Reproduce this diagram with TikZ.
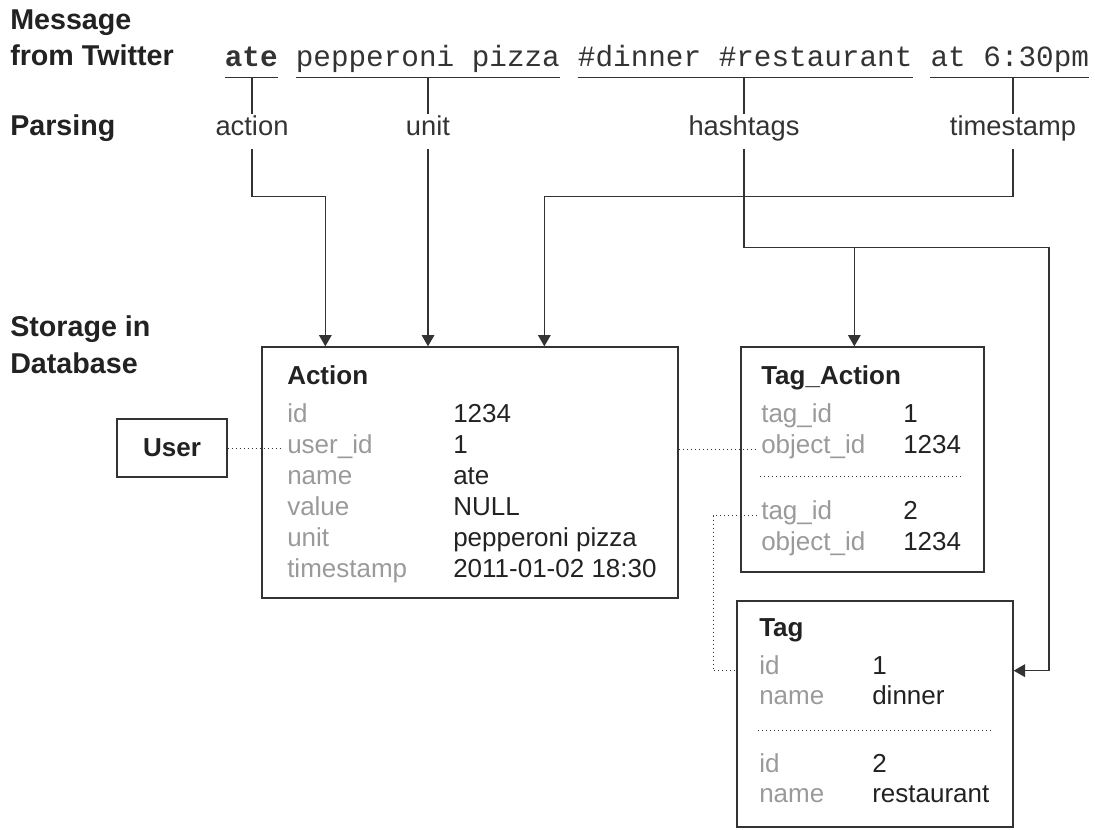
\documentclass[tikz,border=0pt]{standalone}
\usepackage{fontspec}
\setmainfont{Liberation Sans}
\setmonofont{Liberation Mono}
\usetikzlibrary{arrows.meta,positioning,calc}

\definecolor{ink}{HTML}{333333}
\definecolor{keygray}{HTML}{9A9A9A}
\definecolor{valink}{HTML}{222222}

\begin{document}
\begin{tikzpicture}[x=0.75pt,y=-0.75pt,
    heading/.style={anchor=base west,inner sep=0pt,text=valink,font=\fontsize{21.5}{26}\selectfont\bfseries},
    msg/.style={inner xsep=0pt,inner ysep=0pt,text height=16pt,text depth=8.25pt,text=ink,font=\fontsize{22}{26}\selectfont\ttfamily},
    parse/.style={anchor=base,inner xsep=0pt,inner ysep=8pt,text height=.75em,text depth=.25em,text=ink,font=\fontsize{20.5}{24}\selectfont},
    tbl/.style={draw=ink,line width=1pt},
    ttl/.style={anchor=base west,inner sep=0pt,text=valink,font=\fontsize{19.5}{23}\selectfont\bfseries},
    key/.style={anchor=base west,inner xsep=3pt,inner ysep=0pt,text height=.75em,text depth=.25em,text=keygray,font=\fontsize{19.5}{23}\selectfont},
    val/.style={anchor=base west,inner sep=0pt,text=valink,font=\fontsize{19.5}{23}\selectfont},
    conn/.style={draw=ink,line width=1pt},
    tip/.style={-{Triangle[length=8.5pt,width=9.5pt]}},
    dots/.style={draw=ink,line width=0.7pt,dash pattern=on 0.7pt off 2.3pt}]
    \useasboundingbox (0,0) rectangle (1095,829);

    % row headings
    \node[heading] (hmsg) at (10,29) {Message};
    \node[heading] (hfrom) at (10,65) {from Twitter};
    \node[heading] (hparse) at (10,135) {Parsing};
    \node[heading] (hstore) at (10,336) {Storage in};
    \node[heading] (hdb) at (10,373) {Database};

    % the tweet
    \node[msg,anchor=base west] (w1) at (224.6,66) {\bfseries ate};
    \node[msg,base right=13.2pt of w1] (w2) {pepperoni pizza};
    \node[msg,base right=13.2pt of w2] (w3) {\#dinner \#restaurant};
    \node[msg,base right=13.2pt of w3] (w4) {at 6:30pm};
    \foreach \w in {w1,w2,w3,w4}
        \draw[conn] (\w.south west) -- (\w.south east);

    % parsed parts
    \node[parse] (act) at (252,135) {action};
    \node[parse] (unit) at (428,135) {unit};
    \node[parse] (hash) at (744,135) {hashtags};
    \node[parse] (ts) at (1013,135) {timestamp};
    \draw[conn] (act.north) -- (act.north |- w1.south);
    \draw[conn] (unit.north) -- (unit.north |- w2.south);
    \draw[conn] (hash.north) -- (hash.north |- w3.south);
    \draw[conn] (ts.north) -- (ts.north |- w4.south);

    % tables
    \node[tbl,minimum width=312pt,minimum height=188.25pt] (action) at (470,472.5) {};
    \node[tbl,minimum width=182.25pt,minimum height=168.75pt] (tagact) at (862.5,459.5) {};
    \node[tbl,minimum width=207pt,minimum height=169.5pt] (tag) at (875,714) {};
    \node[tbl,minimum width=82.5pt,minimum height=43.5pt,text=valink,
        font=\fontsize{19.5}{23}\selectfont\bfseries] (user) at (172,448) {User};

    \node[ttl] (atitle) at (287,384) {Action};
    \foreach \k/\v [count=\i from 0] in {id/1234, user\_id/1, name/ate, value/NULL,
            unit/pepperoni pizza, timestamp/2011-01-02 18:30} {
        \node[key] (ak\i) at (283,{422+31*\i}) {\k};
        \node[val] (av\i) at (453,{422+31*\i}) {\v};
    }

    \node[ttl] (tatitle) at (761,384) {Tag\_Action};
    \foreach \k/\v/\y [count=\i from 0] in {tag\_id/1/422, object\_id/1234/453,
            tag\_id/2/519, object\_id/1234/550} {
        \node[key] (tak\i) at (757,\y) {\k};
        \node[val] (tav\i) at (903,\y) {\v};
    }
    \draw[dots] ($(tagact.north west)+(20,130)$) -- ($(tagact.north east)+(-22,130)$);

    \node[ttl] (ttitle) at (759,636) {Tag};
    \foreach \k/\v/\y [count=\i from 0] in {id/1/674, name/dinner/704,
            id/2/772, name/restaurant/802} {
        \node[key] (tk\i) at (755,\y) {\k};
        \node[val] (tv\i) at (872,\y) {\v};
    }
    \draw[dots] ($(tag.north west)+(22,130)$) -- ($(tag.north east)+(-20,130)$);

    % parsed parts into the tables
    \draw[conn,tip] (act.south) -- ++(0,47) -| ($(action.north west)+(64,0)$);
    \draw[conn,tip] (unit.south) -- (unit.south |- action.north);
    \draw[conn,tip] (ts.south) -- ++(0,47) -| ($(action.north west)+(283,0)$);
    \draw[conn,tip] (hash.south) -- ++(0,98) coordinate (hsplit) -| ($(tagact.north west)+(114,0)$);
    \draw[conn,tip] (hsplit) -- ++(305,0) |- (tk0 -| tag.east);

    % keys
    \draw[dots] (user.east) -- (user.east -| ak1.west);
    \draw[dots] (tak1.west -| action.east) -- (tak1.west);
    \draw[dots] (tak2.west) -- ++(-44,0) |- (tk0.west -| tag.west);
\end{tikzpicture}
\end{document}
